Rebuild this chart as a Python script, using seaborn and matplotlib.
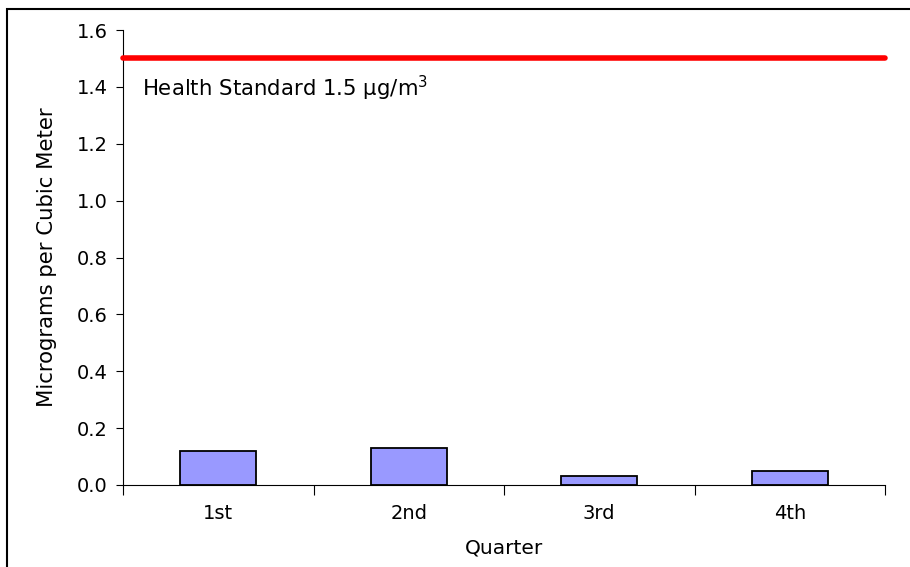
import matplotlib
matplotlib.use("Agg")
import matplotlib.pyplot as plt
import matplotlib.transforms as mtransforms
import seaborn as sns
import pandas as pd
from matplotlib.patches import Rectangle
from matplotlib.ticker import FixedLocator, MultipleLocator

quarters = ["1st", "2nd", "3rd", "4th"]
values = [0.12, 0.13, 0.03, 0.05]
standard = 1.5
standard_label = "Health Standard 1.5 µg/m$^3$"

sns.set_style("white")
plt.rcParams["font.family"] = ["DejaVu Sans"]
plt.rcParams["mathtext.fontset"] = "dejavusans"
for k in ["text.color", "axes.labelcolor", "xtick.color", "ytick.color"]:
    plt.rcParams[k] = "black"

df = pd.DataFrame({"Quarter": quarters, "Value": values})

fig = plt.figure(figsize=(9.1, 5.67), dpi=100)
ax = fig.add_axes([123/910, 1-485/567, (885-123)/910, (485-30)/567])

sns.barplot(data=df, x="Quarter", y="Value", order=quarters, color="#9999FF",
            saturation=1, width=0.4, edgecolor="black", linewidth=1.3, ax=ax)

ax.axhline(standard, color="#FF0000", lw=4, solid_capstyle="round", clip_on=False, zorder=3)
trans = mtransforms.blended_transform_factory(ax.transAxes, ax.transData)
ax.text(19/762, 1.395, standard_label, transform=trans,
        fontsize=15.3, va="center", ha="left", color="black")

ax.set_xlim(-0.5, 3.5)
ax.set_ylim(0, 1.6)
ax.yaxis.set_major_locator(MultipleLocator(0.2))
ax.set_yticks(ax.get_yticks())
ax.set_yticklabels([f"{v:.1f}" for v in ax.get_yticks()])
ax.set_ylim(0, 1.6)
ax.xaxis.set_minor_locator(FixedLocator([-0.5, 0.5, 1.5, 2.5, 3.5]))
ax.tick_params(axis="x", which="major", length=0, pad=14, labelsize=14, labelcolor="black")
ax.tick_params(axis="x", which="minor", length=7, width=0.8, color="black", direction="out", bottom=True)
ax.tick_params(axis="y", which="major", length=5, width=0.8, color="black", direction="out", left=True,
               labelsize=14, pad=6, labelcolor="black")

for s in ["top", "right"]:
    ax.spines[s].set_visible(False)
for s in ["left", "bottom"]:
    ax.spines[s].set_color("black")
    ax.spines[s].set_linewidth(0.8)

ax.set_xlabel("Quarter", fontsize=14.5, labelpad=11, color="black")
ax.set_ylabel("Micrograms per Cubic Meter", fontsize=15.3, labelpad=14, color="black")

fig.patches.append(Rectangle((6.5/910, -0.1), 1.2, 1 - 8.5/567 + 0.1, transform=fig.transFigure,
                             fill=False, edgecolor="black", lw=1.5, zorder=10))

fig.savefig("out.png", dpi=100)
